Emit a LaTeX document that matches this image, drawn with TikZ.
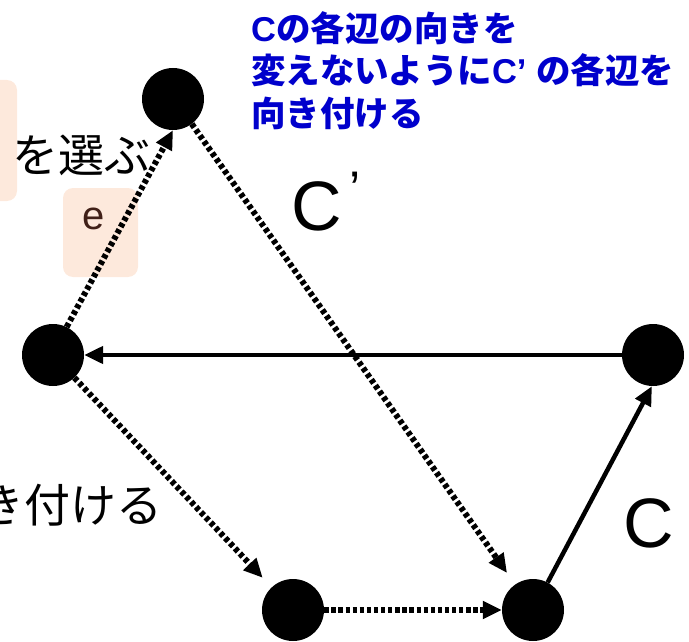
\documentclass[tikz,border=0pt]{standalone}
\usepackage{fontspec}
\setmainfont{Liberation Sans}
\newfontfamily\jpfont{Noto Sans CJK JP}
\usetikzlibrary{arrows.meta}
\definecolor{peach}{RGB}{253,233,220}
\definecolor{noteblue}{RGB}{0,0,204}
\definecolor{ebrown}{RGB}{64,32,24}
\newcommand{\latC}[1]{{\rmfamily\bfseries #1}}

\begin{document}
\begin{tikzpicture}[x=1pt, y=-1pt,
	vertex/.style={circle, fill=black, minimum size=62pt, inner sep=0pt},
	cedge/.style={line width=4.5pt, -{Triangle[length=19pt, width=17pt]}},
	dedge/.style={line width=6pt, dash pattern=on 4.3pt off 2.8pt,
		-{Triangle[length=19pt, width=17pt]}},
	tag/.style={fill=peach, rounded corners=10pt}]
\useasboundingbox (0, 0) rectangle (689, 642);

% peach tags behind the edges
\fill[tag] (-40, 80) rectangle (17, 201);
\fill[tag] (63, 188) rectangle (138, 277);

% vertices
\node[vertex] (top) at (173, 99) {};
\node[vertex] (left) at (53, 355) {};
\node[vertex] (right) at (653, 355) {};
\node[vertex] (bleft) at (293, 610) {};
\node[vertex] (bright) at (533, 610) {};

% the cycle C'
\draw[dedge] (left.64) -- (top.-90);
\draw[dedge, shorten >=14pt] (top.-53) -- (bright);
\draw[dedge, shorten >=13pt] (left) -- (bleft);
\draw[dedge] (bleft) -- (bright);

% the cycle C
\draw[cedge] (right) -- (left);
\draw[cedge] (bright.62) -- (right.-92);

% labels
\node[anchor=east, inner sep=0pt, font=\jpfont\fontsize{46}{46}\selectfont]
	(choose) at (151, 155) {を選ぶ};
\node[anchor=east, inner sep=0pt, font=\jpfont\fontsize{46}{46}\selectfont]
	(orient) at (163, 505) {き付ける};
\node[anchor=north west, align=left, inner sep=0pt, text=noteblue,
	font=\jpfont\bfseries\fontsize{34.5}{42.5}\selectfont]
	(note) at (251, 11) {\latC{C}の各辺の向きを\\変えないように\latC{C’ }の各辺を\\向き付ける};
\node[anchor=base west, inner sep=0pt, font=\fontsize{70}{70}\selectfont]
	(cprime) at (291, 230) {C\hspace{8pt}\raisebox{24pt}{\fontsize{50}{50}\selectfont ’}};
\node[anchor=base west, inner sep=0pt, font=\fontsize{70}{70}\selectfont]
	(cname) at (623, 547) {C};
\node[inner sep=0pt, text=ebrown, font=\fontsize{40}{40}\selectfont]
	(ename) at (94, 219) {e};

\end{tikzpicture}
\end{document}
